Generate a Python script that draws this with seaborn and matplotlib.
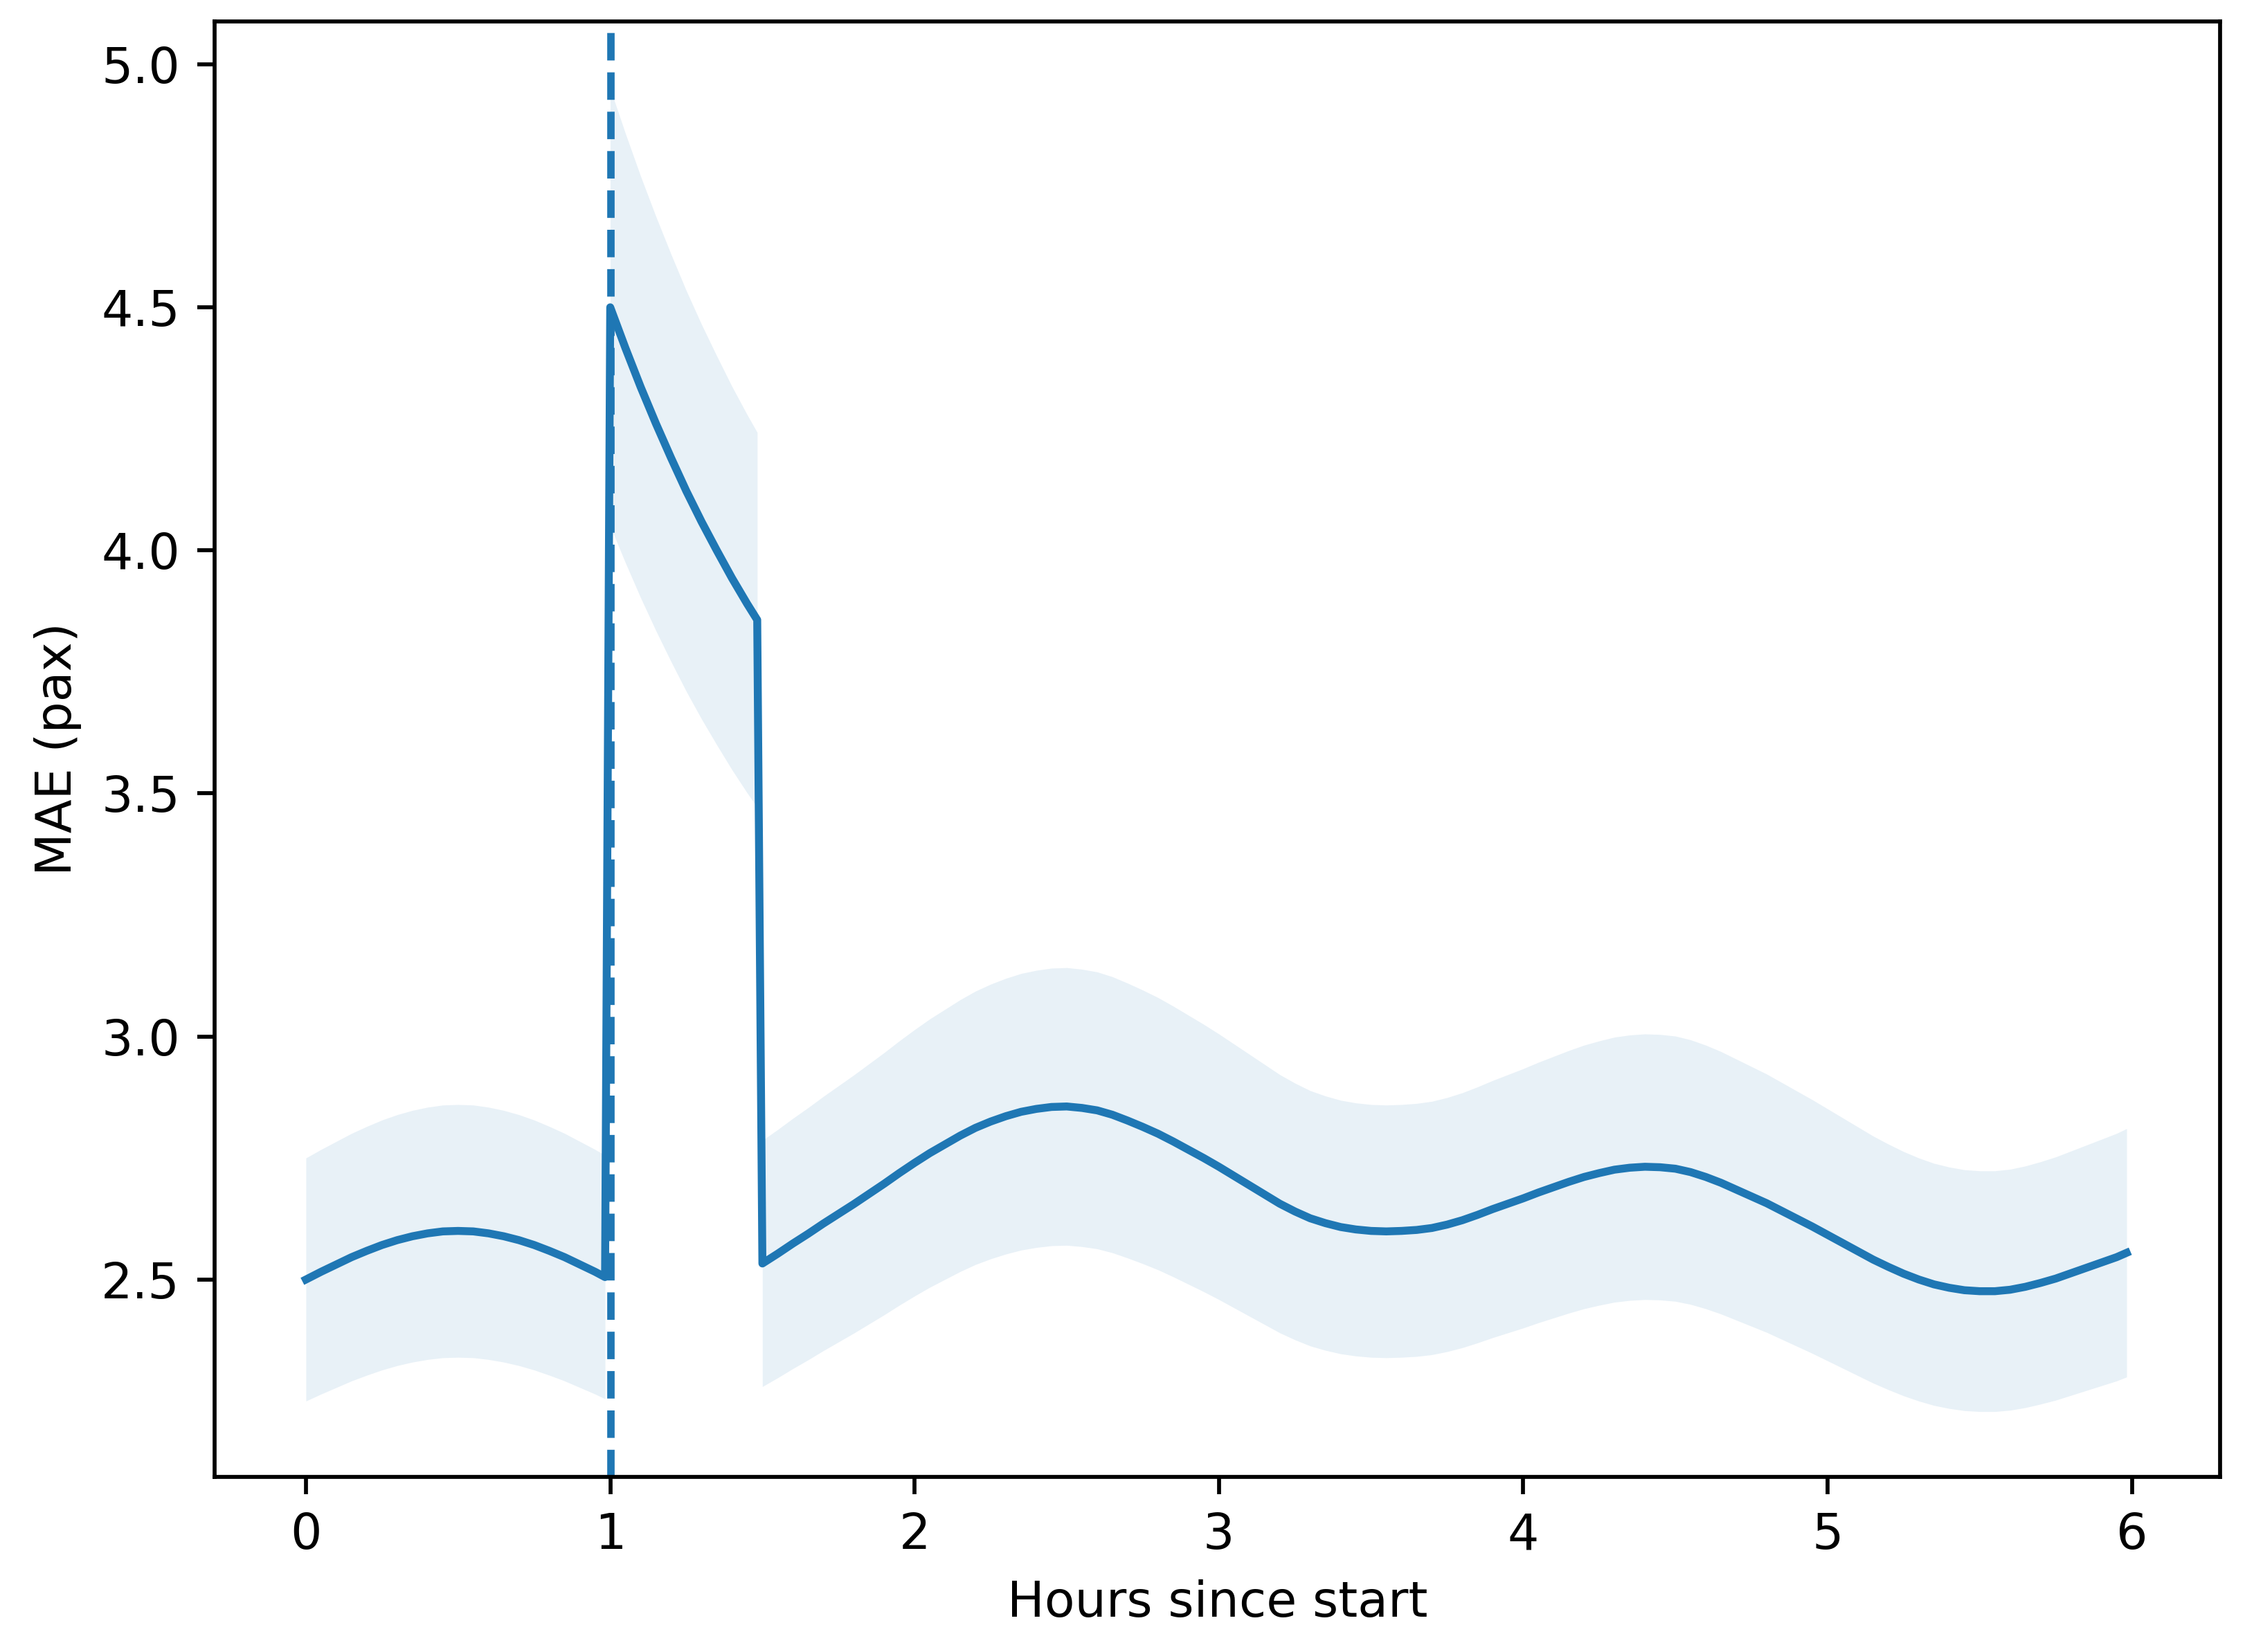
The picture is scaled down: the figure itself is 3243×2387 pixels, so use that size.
import numpy as np
import pandas as pd
import matplotlib
matplotlib.use("Agg")
import matplotlib.pyplot as plt
import seaborn as sns

# hours since start (three phases)
hours_pre = [0.0, 0.05, 0.1, 0.15, 0.2, 0.25, 0.3, 0.35, 0.4, 0.45, 0.5,
             0.55, 0.6, 0.65, 0.7, 0.75, 0.8, 0.85, 0.9, 0.95, 0.983]
mae_pre = [2.500, 2.516, 2.531, 2.546, 2.559, 2.571, 2.581, 2.589, 2.595, 2.599, 2.600,
           2.599, 2.595, 2.589, 2.581, 2.571, 2.559, 2.546, 2.531, 2.516, 2.505]

hours_event = [1.0, 1.05, 1.1, 1.15, 1.2, 1.25, 1.3, 1.35, 1.4, 1.45, 1.483]
mae_event = [4.500, 4.416, 4.336, 4.261, 4.190, 4.122, 4.059, 4.000, 3.943, 3.890, 3.857]

hours_post = [1.5, 1.55, 1.6, 1.65, 1.7, 1.75, 1.8, 1.85, 1.9, 1.95,
              2.0, 2.05, 2.1, 2.15, 2.2, 2.25, 2.3, 2.35, 2.4, 2.45,
              2.5, 2.55, 2.6, 2.65, 2.7, 2.75, 2.8, 2.85, 2.9, 2.95,
              3.0, 3.05, 3.1, 3.15, 3.2, 3.25, 3.3, 3.35, 3.4, 3.45,
              3.5, 3.55, 3.6, 3.65, 3.7, 3.75, 3.8, 3.85, 3.9, 3.95,
              4.0, 4.05, 4.1, 4.15, 4.2, 4.25, 4.3, 4.35, 4.4, 4.45,
              4.5, 4.55, 4.6, 4.65, 4.7, 4.75, 4.8, 4.85, 4.9, 4.95,
              5.0, 5.05, 5.1, 5.15, 5.2, 5.25, 5.3, 5.35, 5.4, 5.45,
              5.5, 5.55, 5.6, 5.65, 5.7, 5.75, 5.8, 5.85, 5.9, 5.95, 5.983]
mae_post = [2.533, 2.553, 2.574, 2.594, 2.615, 2.635, 2.655, 2.676, 2.697, 2.719,
            2.740, 2.760, 2.778, 2.796, 2.812, 2.825, 2.836, 2.845, 2.851, 2.855,
            2.856, 2.853, 2.848, 2.839, 2.827, 2.814, 2.800, 2.784, 2.767, 2.750,
            2.732, 2.713, 2.694, 2.675, 2.656, 2.640, 2.626, 2.616, 2.608, 2.603,
            2.600, 2.599, 2.600, 2.602, 2.606, 2.613, 2.622, 2.633, 2.645, 2.656,
            2.667, 2.679, 2.690, 2.701, 2.711, 2.719, 2.726, 2.730, 2.732, 2.731,
            2.728, 2.721, 2.711, 2.699, 2.685, 2.671, 2.657, 2.641, 2.625, 2.609,
            2.592, 2.575, 2.558, 2.541, 2.526, 2.512, 2.500, 2.490, 2.483, 2.478,
            2.476, 2.476, 2.479, 2.485, 2.493, 2.502, 2.513, 2.524, 2.535, 2.546, 2.555]

# shaded band is +/- 10% of the mean
band_pct = 10
event_hour = 1.0

segments = [(hours_pre, mae_pre), (hours_event, mae_event), (hours_post, mae_post)]
df = pd.DataFrame({
    "hours": hours_pre + hours_event + hours_post,
    "mae": mae_pre + mae_event + mae_post,
})

dpi = 515
fig = plt.figure(figsize=(3243 / dpi, 2387 / dpi), dpi=dpi)
ax = fig.add_axes([0.0956, 0.106, 0.8933, 0.881])

color = "#1f77b4"
sns.lineplot(data=df, x="hours", y="mae", color=color, linewidth=1.6, ax=ax)

for hrs, mae in segments:
    mae = np.array(mae)
    ax.fill_between(hrs, mae * (1 - band_pct / 100), mae * (1 + band_pct / 100),
                    color=color, alpha=0.1, linewidth=0)

ax.axvline(event_hour, color=color, linestyle="--", linewidth=1.5)

ax.set_xlim(-0.3, 6.29)
ax.set_ylim(2.094, 5.088)
ax.set_yticks([2.5, 3.0, 3.5, 4.0, 4.5, 5.0])
ax.set_xlabel("Hours since start")
ax.set_ylabel("MAE (pax)")

fig.savefig("out.png", dpi=dpi)
